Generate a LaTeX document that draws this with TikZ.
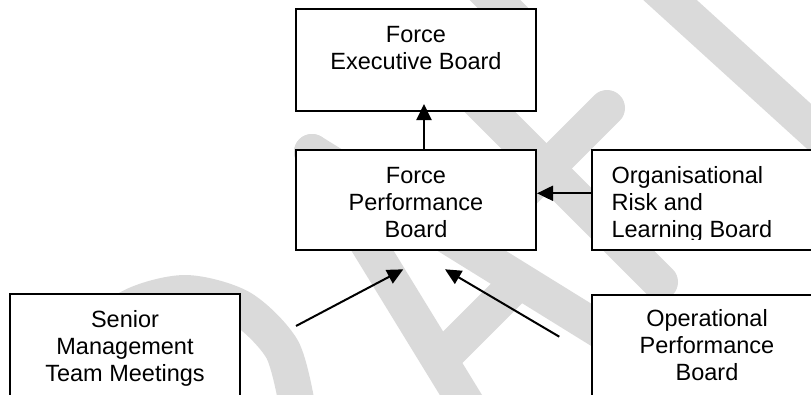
\documentclass[tikz,border=0pt]{standalone}
\usepackage{fontspec}
\setmainfont{Liberation Sans}
\usetikzlibrary{arrows.meta,calc}
\definecolor{wmgray}{RGB}{218,218,218}
\newcommand\ctrlines[1]{\vtop{\baselineskip=27pt\halign{\hfil##\hfil\cr#1\crcr}}}
\newcommand\leftlines[1]{\vtop{\baselineskip=27pt\halign{##\hfil\cr#1\crcr}}}
\tikzset{
  box/.style={draw=black, fill=white, line width=1.6pt, rectangle, inner sep=0pt, outer sep=0pt},
  txt/.style={inner sep=0pt, outer sep=0pt, font=\fontsize{23.5}{27}\selectfont},
  arr/.style={line width=2pt, -{Triangle[length=16pt,width=15pt]}},
  wm/.style={line width=36pt, line cap=round, line join=round, draw=wmgray}
}
\begin{document}
\begin{tikzpicture}[x=1pt,y=-1pt]
\useasboundingbox (0,0) rectangle (811,394);
\clip (0,0) rectangle (811,394);
% watermark
\draw[wm] plot[smooth] coordinates {(88,349) (129,308) (185,293) (241,308) (282,349) (297,405)};
\draw[wm] (312,152) -- (475,418);
\draw[wm] (312,152) -- (640,355);
\draw[wm] (440,360) -- (519,281);
\draw[wm] (470,92) -- (660,282);
\draw[wm] (607,108) -- (500,215);
\draw[wm] (637,-30) -- (856,169);
\draw[wm] (455,-40) -- (515,20);
% boxes
\node[box, minimum width=240pt, minimum height=102pt] (exec) at (416,60) {};
\node[box, minimum width=240pt, minimum height=100pt] (perf) at (416,200) {};
\node[box, minimum width=230pt, minimum height=100pt] (org) at (707,200) {};
\node[box, minimum width=230pt, minimum height=120pt] (senior) at (125,354) {};
\node[box, minimum width=230pt, minimum height=120pt] (op) at (707,355) {};
% texts
\node[txt, anchor=base] (exectxt) at (416,42.7) {\ctrlines{Force\cr Executive Board}};
\node[txt, anchor=base] (perftxt) at (416,183.3) {\ctrlines{Force\cr Performance\cr Board}};
\begin{scope}
  \clip (592,150) rectangle (811,239);
  \node[txt, anchor=base west] (orgtxt) at (611.6,183.3) {\leftlines{Organisational\cr Risk and\cr Learning Board}};
\end{scope}
\node[txt, anchor=base] (seniortxt) at (125,327.3) {\ctrlines{Senior\cr Management\cr Team Meetings}};
\node[txt, anchor=base] (optxt) at (707,326.7) {\ctrlines{Operational\cr Performance\cr Board}};
% connectors
\coordinate (ax) at (424,0);
\coordinate (ay) at (0,193.3);
\coordinate (s1) at (296,326);
\coordinate (s2) at (403.3,269.3);
\coordinate (o1) at (559.3,336.7);
\coordinate (o2) at (445,269.3);
\draw[arr] (ax|-perf.north) -- ($(ax|-exec.south)+(0,-7)$);
\draw[arr] (org.west|-ay) -- ($(perf.east|-ay)+(1,0)$);
\draw[arr] (s1) -- (s2);
\draw[arr] (o1) -- (o2);
\end{tikzpicture}
\end{document}
